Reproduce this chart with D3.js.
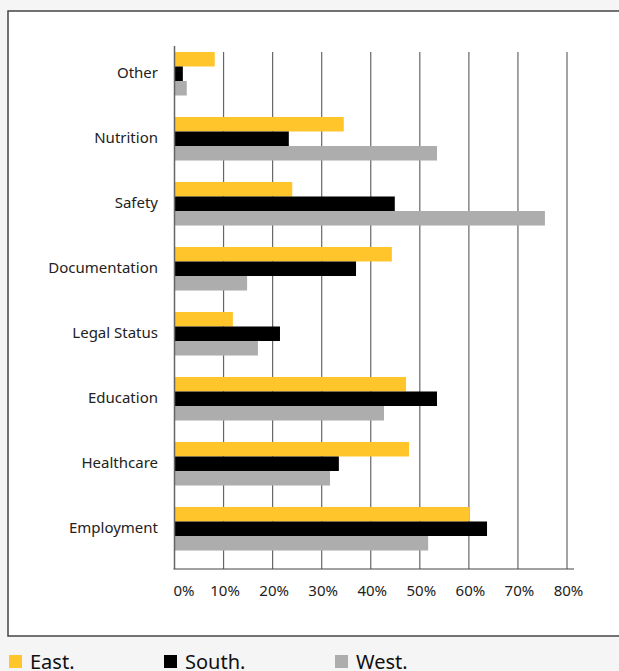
<!DOCTYPE html>
<html>
<head>
<meta charset="utf-8">
<script src="https://cdn.jsdelivr.net/npm/d3@7"></script>
<style>
  body { margin: 0; background: #f5f5f5; font-family: "Noto Sans", "Open Sans", sans-serif; }
</style>
</head>
<body>
<div id="chart"></div>
<script>
// categories top to bottom, values in percent
var categories = ["Other", "Nutrition", "Safety", "Documentation", "Legal Status", "Education", "Healthcare", "Employment"];
var seriesNames = ["East.", "South.", "West."];
var east  = [8.2, 34.5, 24.0, 44.3, 11.9, 47.2, 47.8, 60.1];
var south = [1.7, 23.3, 44.9, 37.0, 21.5, 53.5, 33.5, 63.7];
var west  = [2.5, 53.5, 75.5, 14.8, 17.0, 42.7, 31.7, 51.7];
var ticks = [0, 10, 20, 30, 40, 50, 60, 70, 80];
var colors = ["#ffc52b", "#000000", "#adadad"];

var width = 619, height = 671;

var svg = d3.select("#chart").append("svg")
  .attr("width", width)
  .attr("height", height);

// white panel
svg.append("rect")
  .attr("x", 8).attr("y", 11)
  .attr("width", 640).attr("height", 625)
  .attr("fill", "#fff")
  .attr("stroke", "#444")
  .attr("stroke-width", 1.5);

var x = d3.scaleLinear().domain([0, 80]).range([174.5, 567]);

var y = d3.scaleBand()
  .domain(categories)
  .range([41.25, 561.25])
  .paddingInner(0.33)
  .paddingOuter(0.165);

var ySub = d3.scaleBand()
  .domain(seriesNames)
  .range([0, y.bandwidth()]);

var gridTop = 52, axisY = 569;

// gridlines
svg.append("g").selectAll("line")
  .data(ticks.slice(1))
  .enter().append("line")
  .attr("x1", d => x(d)).attr("x2", d => x(d))
  .attr("y1", gridTop).attr("y2", axisY)
  .attr("stroke", "#666")
  .attr("stroke-width", 1.2);

// bars
var rows = categories.map((c, i) => ({ cat: c, vals: [east[i], south[i], west[i]] }));

var groups = svg.append("g").selectAll("g")
  .data(rows)
  .enter().append("g")
  .attr("transform", d => "translate(0," + y(d.cat) + ")");

groups.selectAll("rect")
  .data(d => d.vals.map((v, j) => ({ name: seriesNames[j], value: v, j: j })))
  .enter().append("rect")
  .attr("x", x(0))
  .attr("y", d => ySub(d.name))
  .attr("width", d => x(d.value) - x(0))
  .attr("height", ySub.bandwidth())
  .attr("fill", d => colors[d.j]);

// zero line and x axis baseline
svg.append("line")
  .attr("x1", x(0)).attr("x2", x(0))
  .attr("y1", 46).attr("y2", axisY)
  .attr("stroke", "#666").attr("stroke-width", 1.5);

svg.append("line")
  .attr("x1", x(0) - 1).attr("x2", 574)
  .attr("y1", axisY).attr("y2", axisY)
  .attr("stroke", "#444").attr("stroke-width", 1.2);

// tick labels
svg.append("g").selectAll("text")
  .data(ticks)
  .enter().append("text")
  .attr("x", d => d === 0 ? x(0) - 1 : x(d) + 1.5)
  .attr("y", 596)
  .attr("text-anchor", d => d === 0 ? "start" : "middle")
  .attr("font-size", 15)
  .attr("fill", "#222")
  .text(d => d + "%");

// category labels
svg.append("g").selectAll("text")
  .data(categories)
  .enter().append("text")
  .attr("x", 158)
  .attr("y", d => y(d) + y.bandwidth() / 2 - 1.5)
  .attr("dy", "0.35em")
  .attr("text-anchor", "end")
  .attr("font-size", 15)
  .attr("fill", "#222")
  .text(d => d);

// legend
var legendX = [9, 164, 335];
var legend = svg.append("g").selectAll("g")
  .data(seriesNames)
  .enter().append("g")
  .attr("transform", (d, i) => "translate(" + legendX[i] + ",655)");

legend.append("rect")
  .attr("width", 13).attr("height", 13)
  .attr("fill", (d, i) => colors[i]);

legend.append("text")
  .attr("x", 21)
  .attr("y", 14)
  .attr("font-size", 20)
  .attr("fill", "#111")
  .text(d => d);
</script>
</body>
</html>
